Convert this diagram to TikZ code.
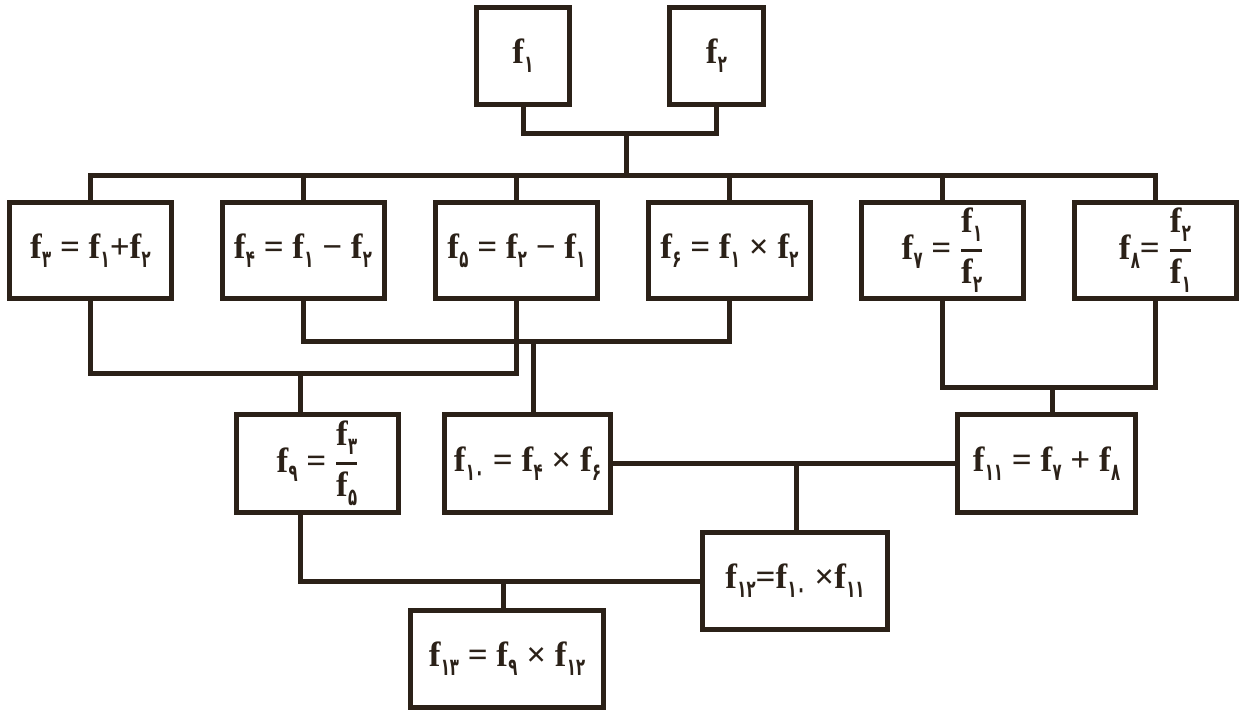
\documentclass[tikz,border=0pt]{standalone}
\usepackage{fix-cm}
\usepackage{amsmath}
\usepackage{fontspec}
\setmainfont{Liberation Serif}
\newfontfamily\digfont[FakeStretch=0.62]{DejaVu Sans}
\definecolor{ink}{RGB}{43,33,24}
\newcommand\ff[1]{\textbf{f}\raisebox{-9pt}{\digfont\bfseries\fontsize{24}{24}\selectfont #1}}
\newcommand\fr[2]{$\genfrac{}{}{2.5pt}{0}{\hbox{\ff{#1}}}{\hbox{\ff{#2}}}$}
\tikzset{
  box/.style={draw=ink, line width=5pt, text=ink, inner sep=0pt,
    font=\fontsize{35}{41}\selectfont\bfseries, align=center},
  conn/.style={draw=ink, line width=5pt}
}
\begin{document}
\begin{tikzpicture}[x=1pt,y=-1pt]
\useasboundingbox (0,0) rectangle (1246,718);
% top
\node[box, minimum width=93pt, minimum height=97pt] (f1) at (523,56) {\ff{۱}};
\node[box, minimum width=94pt, minimum height=97pt] (f2) at (716.5,56) {\ff{۲}};
% row 2
\node[box, minimum width=162pt, minimum height=96pt] (f3) at (90.5,250.5) {\ff{۳} = \ff{۱}+\ff{۲}};
\node[box, minimum width=162pt, minimum height=96pt] (f4) at (303,250.5) {\ff{۴} = \ff{۱} − \ff{۲}};
\node[box, minimum width=162pt, minimum height=96pt] (f5) at (516.5,250.5) {\ff{۵} = \ff{۲} − \ff{۱}};
\node[box, minimum width=162pt, minimum height=96pt] (f6) at (729.5,250.5) {\ff{۶} = \ff{۱} × \ff{۲}};
\node[box, minimum width=162pt, minimum height=96pt] (f7) at (942.5,250.5) {\ff{۷} = \fr{۱}{۲}};
\node[box, minimum width=162pt, minimum height=96pt] (f8) at (1155.5,250.5) {\ff{۸}= \fr{۲}{۱}};
% row 3
\node[box, minimum width=162pt, minimum height=98pt] (f9) at (317.5,463.5) {\ff{۹} = \fr{۳}{۵}};
\node[box, minimum width=166pt, minimum height=98pt] (f10) at (527.5,463.5) {\ff{۱۰} = \ff{۴} × \ff{۶}};
\node[box, minimum width=178pt, minimum height=98pt] (f11) at (1046.5,463.5) {\ff{۱۱} = \ff{۷} + \ff{۸}};
% row 4
\node[box, minimum width=185pt, minimum height=97pt] (f12) at (795,581) {\ff{۱۲}=\ff{۱۰} ×\ff{۱۱}};
\node[box, minimum width=193pt, minimum height=97pt] (f13) at (507,659) {\ff{۱۳} = \ff{۹} × \ff{۱۲}};
% connectors
\coordinate (j12) at (626,133);
\coordinate (bus) at (626,175);
\draw[conn] (f1.south) -- (f1.south |- j12) -- (f2.south |- j12) -- (f2.south);
\draw[conn] (j12) -- (bus);
\draw[conn] (f3.north) -- (f3.north |- bus) -- (f8.north |- bus) -- (f8.north);
\foreach \n in {f4,f5,f6,f7} \draw[conn] (\n.north) -- (\n.north |- bus);
\coordinate (j39) at (300,373);
\draw[conn] (f3.south) -- (f3.south |- j39) -- (f5.south |- j39) -- (f5.south);
\draw[conn] (j39) -- (j39 |- f9.north);
\coordinate (j46) at (533,341);
\draw[conn] (f4.south) -- (f4.south |- j46) -- (f6.south |- j46) -- (f6.south);
\draw[conn] (j46) -- (j46 |- f10.north);
\coordinate (j78) at (1052,387);
\draw[conn] (f7.south) -- (f7.south |- j78) -- (f8.south |- j78) -- (f8.south);
\draw[conn] (j78) -- (j78 |- f11.north);
\coordinate (j1011) at (796,463.5);
\draw[conn] (f10.east) -- (f11.west);
\draw[conn] (j1011) -- (j1011 |- f12.north);
\coordinate (j912) at (503,581);
\draw[conn] (j39 |- f9.south) -- (j39 |- j912) -- (f12.west);
\draw[conn] (j912) -- (j912 |- f13.north);
\end{tikzpicture}
\end{document}
